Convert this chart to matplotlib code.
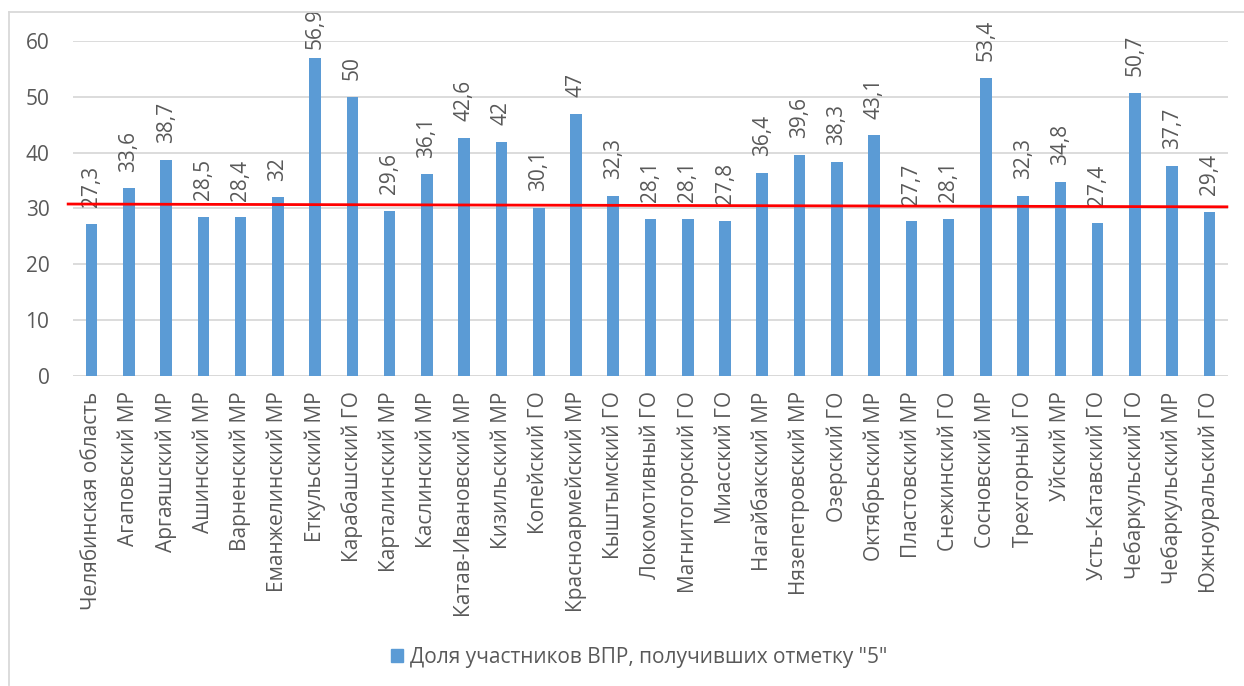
import matplotlib.pyplot as plt
from matplotlib.patches import Patch
from matplotlib.lines import Line2D

plt.rcParams['font.family'] = ['Open Sans', 'DejaVu Sans']

# Data
districts = [
    'Челябинская область', 'Агаповский МР', 'Аргаяшский МР', 'Ашинский МР',
    'Варненский МР', 'Еманжелинский МР', 'Еткульский МР', 'Карабашский ГО',
    'Карталинский МР', 'Каслинский МР', 'Катав-Ивановский МР', 'Кизильский МР',
    'Копейский ГО', 'Красноармейский МР', 'Кыштымский ГО', 'Локомотивный ГО',
    'Магнитогорский ГО', 'Миасский ГО', 'Нагайбакский МР', 'Нязепетровский МР',
    'Озерский ГО', 'Октябрьский МР', 'Пластовский МР', 'Снежинский ГО',
    'Сосновский МР', 'Трехгорный ГО', 'Уйский МР', 'Усть-Катавский ГО',
    'Чебаркульский ГО', 'Чебаркульский МР', 'Южноуральский ГО',
]
share_5 = [27.3, 33.6, 38.7, 28.5, 28.4, 32, 56.9, 50, 29.6, 36.1, 42.6, 42,
           30.1, 47, 32.3, 28.1, 28.1, 27.8, 36.4, 39.6, 38.3, 43.1, 27.7, 28.1,
           53.4, 32.3, 34.8, 27.4, 50.7, 37.7, 29.4]
red_line = [30.8, 30.3]  # hand-drawn line, left and right end
series_name = 'Доля участников ВПР, получивших отметку "5"'

bar_color = '#5B9BD5'
text_color = '#595959'

fig = plt.figure(figsize=(12.44, 6.86), dpi=100)
ax = fig.add_axes([73 / 1244, 1 - 376 / 686, (1228 - 73) / 1244, (376 - 41) / 686])

x = list(range(len(districts)))
ax.bar(x, share_5, width=0.31, color=bar_color, zorder=2)

labels = []
for xi, v in zip(x, share_5):
    t = ax.annotate(f'{v:g}'.replace('.', ','), (xi, v), xytext=(0, 12),
                    textcoords='offset points', rotation=90, ha='center', va='bottom',
                    fontsize=15, color=text_color)
    labels.append(t)

ax.set_xlim(-0.5, len(districts) - 0.5)
ax.set_ylim(0, 60)
ax.set_yticks(range(0, 61, 10))
ax.set_xticks(x)
ax.set_xticklabels(districts, rotation=90, fontsize=15, color=text_color)
ax.tick_params(axis='y', length=0, pad=17, labelsize=15, labelcolor=text_color)
ax.tick_params(axis='x', length=0, pad=11)
ax.grid(axis='y', color='#D9D9D9', linewidth=1.3, zorder=0)
for s in ax.spines.values():
    s.set_visible(False)
ax.axhline(0, color='#D9D9D9', linewidth=1.3, zorder=1)

# red line
ax.plot([-0.63, 30.47], red_line, color='#FF0000', linewidth=2, zorder=3, clip_on=False)

# keep labels inside the chart area, like Excel does
fig.canvas.draw()
renderer = fig.canvas.get_renderer()
top_limit = fig.bbox.height - 8
for t in labels:
    bb = t.get_window_extent(renderer)
    if bb.y1 > top_limit:
        shift = (bb.y1 - top_limit) * 72 / fig.dpi
        t.set_position((0, 12 - shift))

# legend
fig.legend(handles=[Patch(color=bar_color, label=series_name)], loc='center',
           bbox_to_anchor=(639 / 1244, 1 - 657 / 686), frameon=False,
           fontsize=15, labelcolor=text_color, handlelength=0.6, handleheight=0.6,
           handletextpad=0.3)

# chart frame
fig.add_artist(Line2D([9 / 1244, 1], [1 - 12 / 686, 1 - 12 / 686], color='#D9D9D9', linewidth=1.3))
fig.add_artist(Line2D([9 / 1244, 9 / 1244], [1 - 12 / 686, 0.002], color='#D9D9D9', linewidth=1.3))

fig.savefig('out.png', dpi=100)
